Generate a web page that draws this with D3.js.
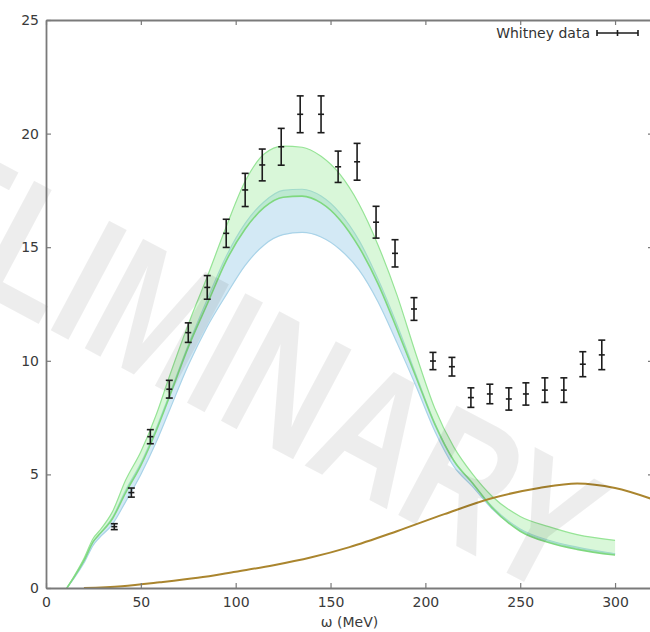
<!DOCTYPE html>
<html>
<head>
<meta charset="utf-8">
<script src="https://cdn.jsdelivr.net/npm/d3@7"></script>
<style>
  html, body { margin: 0; padding: 0; background: #fff; }
  svg { display: block; }
  text { font-family: "DejaVu Sans", sans-serif; }
</style>
</head>
<body>
<svg id="chart" width="650" height="632"></svg>
<script>
// Energy transfer grid for the two theory bands (MeV)
const bandOmega = [11, 15, 20, 25, 28, 35, 42, 50, 58, 65, 75, 85, 95, 105, 115, 125, 135, 145, 155, 165, 175, 185, 195, 205, 215, 225, 235, 250, 265, 280, 300];
// Green band: upper and lower edges
const greenHi = [0, 0.55, 1.3, 2.2, 2.5, 3.35, 4.75, 6.0, 7.6, 9.3, 11.6, 13.7, 15.9, 17.9, 19.1, 19.45, 19.4, 19.0, 18.2, 16.9, 15.1, 12.9, 10.3, 7.9, 6.2, 5.0, 4.05, 3.15, 2.7, 2.35, 2.1];
const greenLo = [0, 0.5, 1.2, 2.05, 2.35, 3.05, 4.2, 5.4, 6.9, 8.4, 10.6, 12.5, 14.4, 15.8, 16.75, 17.2, 17.25, 16.95, 16.2, 15.0, 13.4, 11.4, 9.3, 7.2, 5.6, 4.6, 3.55, 2.5, 2.0, 1.7, 1.45];
// Blue band: upper and lower edges
const blueHi = [0, 0.5, 1.2, 2.05, 2.35, 3.1, 4.3, 5.5, 7.0, 8.5, 10.7, 12.7, 14.6, 16.05, 17.0, 17.5, 17.55, 17.25, 16.5, 15.3, 13.6, 11.6, 9.4, 7.25, 5.6, 4.6, 3.6, 2.6, 2.1, 1.8, 1.5];
const blueLo = [0, 0.45, 1.1, 1.9, 2.2, 2.8, 3.8, 5.0, 6.4, 7.8, 9.8, 11.5, 12.9, 14.2, 15.1, 15.55, 15.65, 15.45, 14.9, 14.0, 12.6, 10.8, 8.9, 6.9, 5.35, 4.45, 3.5, 2.55, 2.05, 1.75, 1.5];

// Brown curve
const brownOmega = [20, 40, 60, 80, 100, 120, 140, 160, 185, 210, 235, 260, 280, 300, 320];
const brownValue = [0.0, 0.08, 0.25, 0.45, 0.72, 1.0, 1.35, 1.8, 2.5, 3.25, 3.95, 4.4, 4.6, 4.4, 3.9];

// Whitney data with error bars
const dataOmega = [36, 45, 55, 65, 75, 85, 95, 105, 114, 124, 134, 145, 154, 164, 174, 184, 194, 204, 214, 224, 234, 244, 253, 263, 273, 283, 293];
const dataValue = [2.7, 4.2, 6.66, 8.75, 11.24, 13.23, 15.61, 17.52, 18.62, 19.42, 20.85, 20.85, 18.54, 18.76, 16.1, 14.73, 12.28, 9.99, 9.74, 8.38, 8.54, 8.32, 8.54, 8.71, 8.71, 9.85, 10.26];
const dataError = [0.13, 0.2, 0.31, 0.39, 0.43, 0.52, 0.62, 0.73, 0.7, 0.81, 0.81, 0.81, 0.69, 0.81, 0.7, 0.6, 0.5, 0.38, 0.41, 0.43, 0.43, 0.49, 0.49, 0.54, 0.54, 0.55, 0.65];

const xTicks = [0, 50, 100, 150, 200, 250, 300];
const yTicks = [0, 5, 10, 15, 20, 25];

const svg = d3.select("#chart");
const x = d3.scaleLinear().domain([0, 320]).range([46, 653]);
const y = d3.scaleLinear().domain([0, 25]).range([588, 20]);

const bandRows = bandOmega.map((w, i) => ({ w, gh: greenHi[i], gl: greenLo[i], bh: blueHi[i], bl: blueLo[i] }));
const curve = d3.curveMonotoneX;

const plot = svg.append("g");

// Blue band
plot.append("path")
  .datum(bandRows)
  .attr("fill", "rgba(140,198,228,0.38)")
  .attr("d", d3.area().curve(curve).x(d => x(d.w)).y0(d => y(d.bl)).y1(d => y(d.bh)));
["bh", "bl"].forEach(k => {
  plot.append("path")
    .datum(bandRows)
    .attr("fill", "none")
    .attr("stroke", "#a9d3e8")
    .attr("stroke-width", 1.2)
    .attr("d", d3.line().curve(curve).x(d => x(d.w)).y(d => y(d[k])));
});

// Green band
plot.append("path")
  .datum(bandRows)
  .attr("fill", "rgba(150,232,150,0.36)")
  .attr("d", d3.area().curve(curve).x(d => x(d.w)).y0(d => y(d.gl)).y1(d => y(d.gh)));
plot.append("path")
  .datum(bandRows)
  .attr("fill", "none")
  .attr("stroke", "#96e496")
  .attr("stroke-width", 1.2)
  .attr("d", d3.line().curve(curve).x(d => x(d.w)).y(d => y(d.gh)));
plot.append("path")
  .datum(bandRows)
  .attr("fill", "none")
  .attr("stroke", "#7fd87f")
  .attr("stroke-width", 1.6)
  .attr("d", d3.line().curve(curve).x(d => x(d.w)).y(d => y(d.gl)));

// Brown curve
plot.append("path")
  .datum(brownOmega.map((w, i) => ({ w, v: brownValue[i] })))
  .attr("fill", "none")
  .attr("stroke", "#aa852e")
  .attr("stroke-width", 2)
  .attr("d", d3.line().curve(curve).x(d => x(d.w)).y(d => y(d.v)));

// Watermark
svg.append("text")
  .attr("transform", "translate(556,599) rotate(28) scale(1,1.3)")
  .attr("text-anchor", "end")
  .style("font-family", "'Liberation Sans', Arial, sans-serif")
  .style("font-weight", "bold")
  .style("font-size", "139px")
  .attr("fill", "#000")
  .attr("fill-opacity", 0.07)
  .text("PRELIMINARY");

// Error bars
const pts = svg.append("g").attr("stroke", "#1c1c1c").attr("stroke-width", 1.6);
dataOmega.forEach((w, i) => {
  const cx = x(w), v = dataValue[i], e = dataError[i];
  const g = pts.append("g");
  g.append("line").attr("x1", cx).attr("x2", cx).attr("y1", y(v - e)).attr("y2", y(v + e));
  g.append("line").attr("x1", cx - 3.5).attr("x2", cx + 3.5).attr("y1", y(v + e)).attr("y2", y(v + e));
  g.append("line").attr("x1", cx - 3.5).attr("x2", cx + 3.5).attr("y1", y(v - e)).attr("y2", y(v - e));
  g.append("line").attr("x1", cx - 3).attr("x2", cx + 3).attr("y1", y(v)).attr("y2", y(v));
});

// Frame and axes
const frameColor = "#7a7a7a";
const axisStyle = g => {
  g.select(".domain").attr("stroke", frameColor).attr("stroke-width", 1.8);
  g.selectAll(".tick line").attr("stroke", frameColor).attr("stroke-width", 1.2);
  g.selectAll(".tick text").attr("fill", "#3a3a3a").style("font-family", "'DejaVu Sans', sans-serif").style("font-size", "14px");
};
svg.append("g")
  .attr("transform", `translate(0,${y(0)})`)
  .call(d3.axisBottom(x).tickValues(xTicks).tickSize(-5).tickSizeOuter(0).tickPadding(9))
  .call(axisStyle);
svg.append("g")
  .attr("transform", `translate(0,${y(25)})`)
  .call(d3.axisTop(x).tickValues(xTicks).tickSize(-5).tickSizeOuter(0).tickFormat(""))
  .call(axisStyle);
svg.append("g")
  .attr("transform", `translate(${x(0)},0)`)
  .call(d3.axisLeft(y).tickValues(yTicks).tickSize(-5).tickSizeOuter(0).tickPadding(7))
  .call(axisStyle);
svg.append("g")
  .attr("transform", `translate(${x(320)},0)`)
  .call(d3.axisRight(y).tickValues(yTicks).tickSize(-5).tickSizeOuter(0).tickFormat(""))
  .call(axisStyle);

// Axis title
svg.append("text")
  .attr("x", (x(0) + x(320)) / 2)
  .attr("y", 627)
  .attr("text-anchor", "middle")
  .attr("fill", "#3a3a3a")
  .style("font-size", "14px")
  .text("ω (MeV)");

// Legend
const legend = svg.append("g");
legend.append("text")
  .attr("x", 590)
  .attr("y", 38)
  .attr("text-anchor", "end")
  .attr("fill", "#333")
  .style("font-size", "14px")
  .text("Whitney data");
const ly = 33;
const lg = legend.append("g").attr("stroke", "#1c1c1c").attr("stroke-width", 1.6);
lg.append("line").attr("x1", 597).attr("x2", 638).attr("y1", ly).attr("y2", ly);
lg.append("line").attr("x1", 597).attr("x2", 597).attr("y1", ly - 3).attr("y2", ly + 3);
lg.append("line").attr("x1", 638).attr("x2", 638).attr("y1", ly - 3).attr("y2", ly + 3);
lg.append("line").attr("x1", 617.5).attr("x2", 617.5).attr("y1", ly - 3).attr("y2", ly + 3);
</script>
</body>
</html>
